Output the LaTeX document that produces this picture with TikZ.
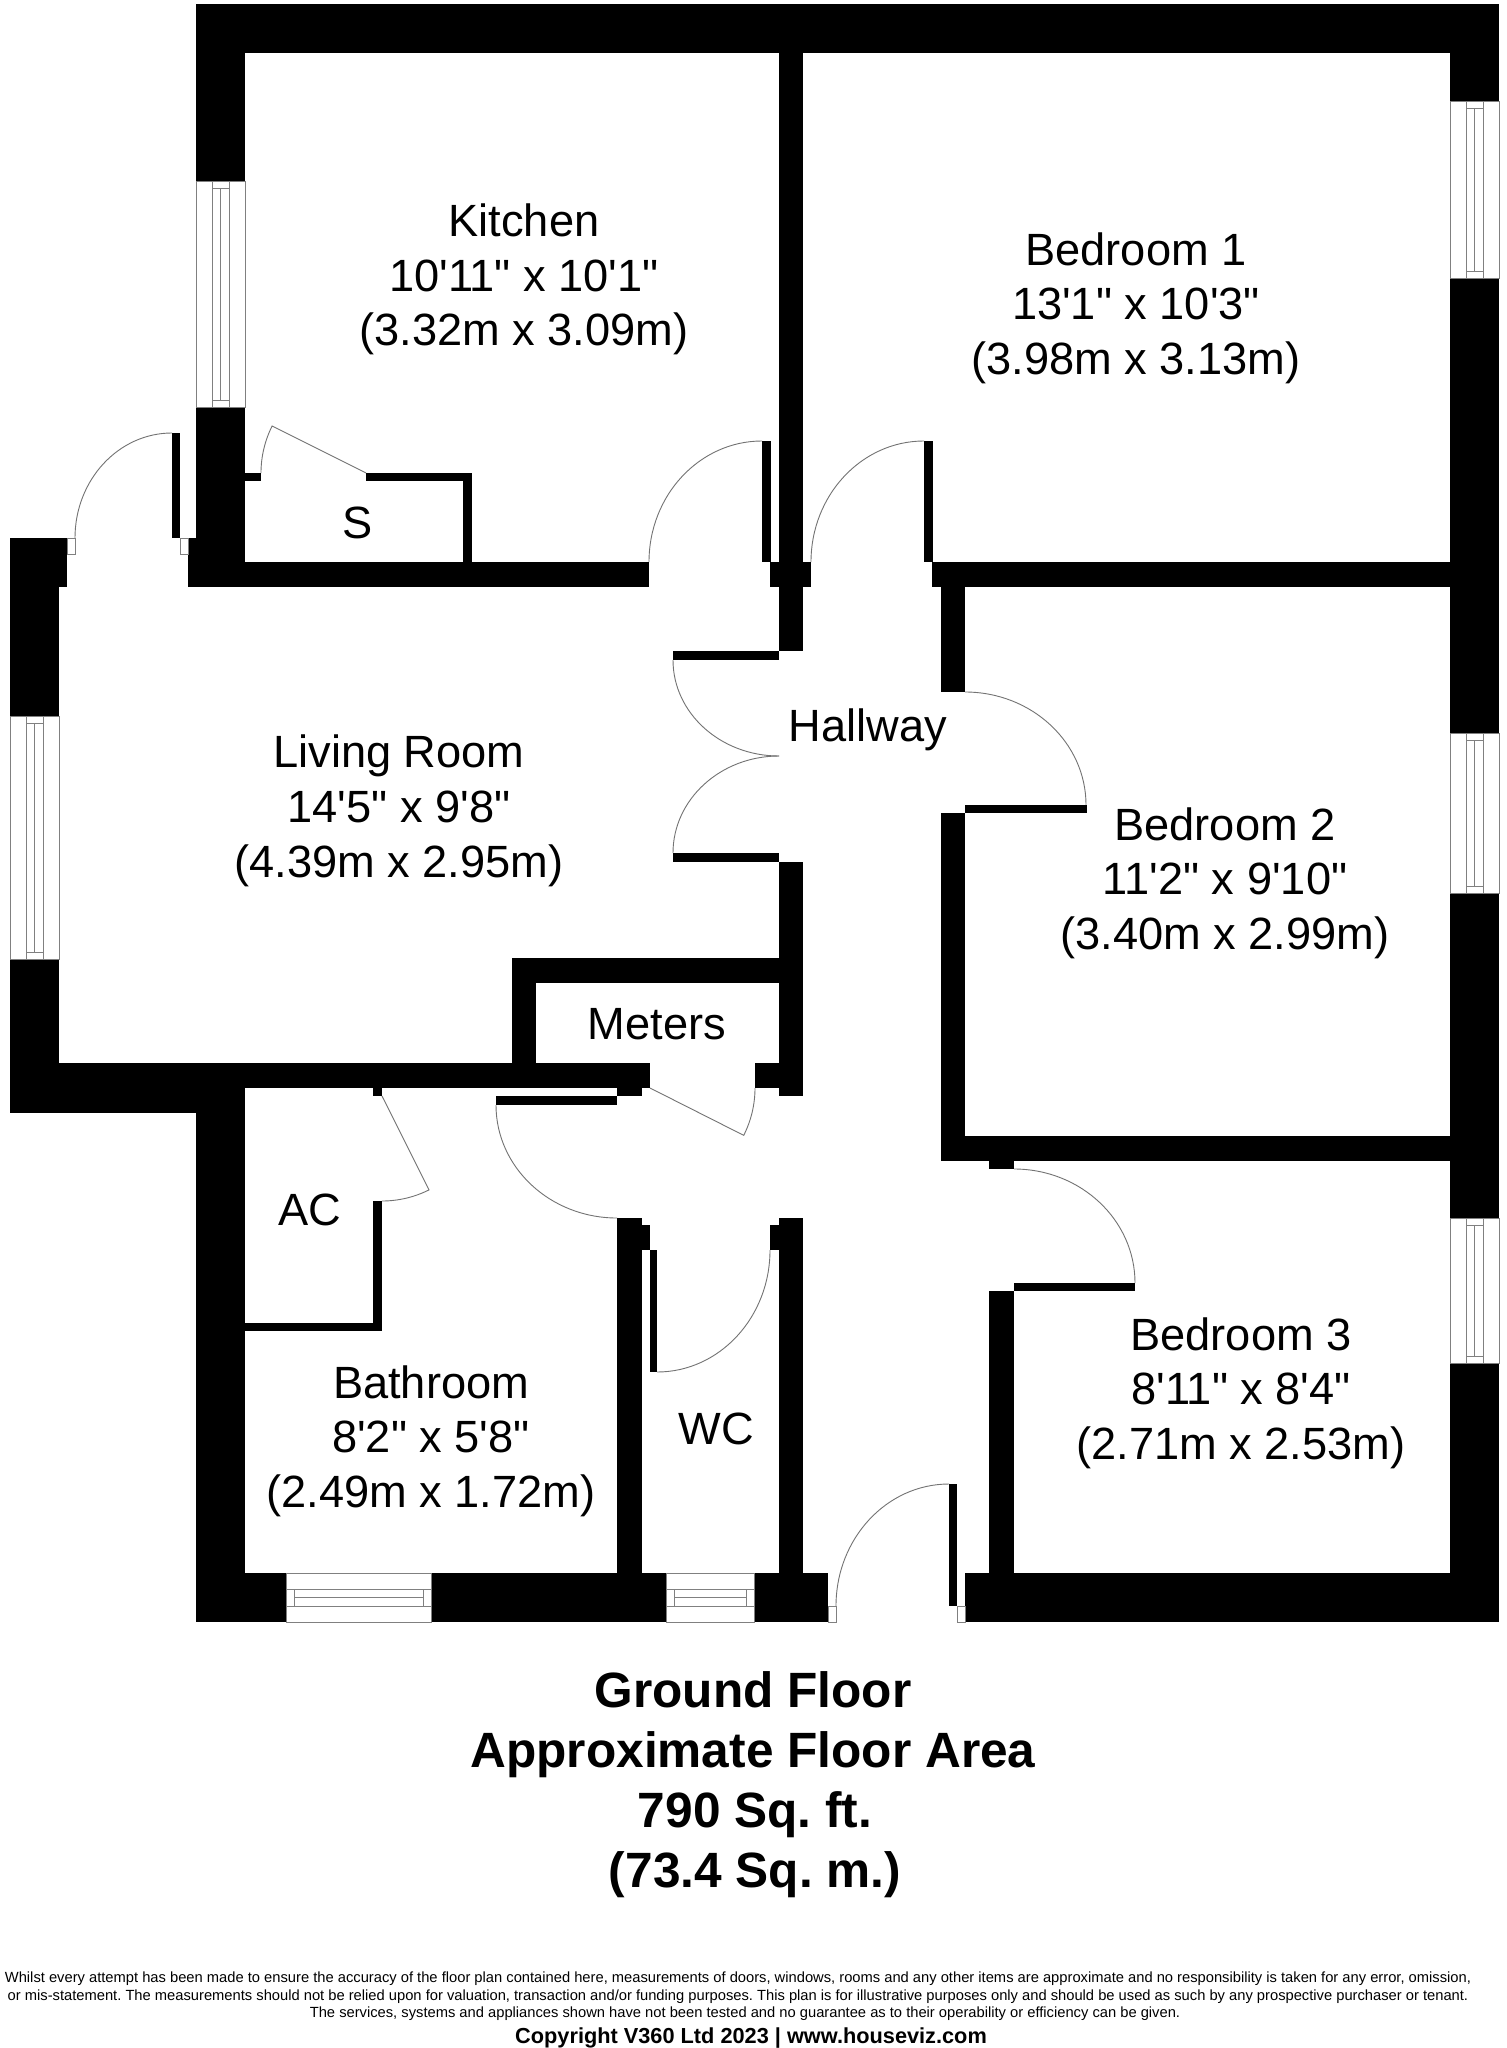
\documentclass[tikz,border=0pt]{standalone}
\usepackage{fontspec}
\setmainfont{Liberation Sans}[Ligatures=TeXOff]
\newcommand{\wallbox}[4]{\fill[black] (#1,#3) rectangle (#2,#4);}
\newcommand{\winV}[4]{%
  \path[winline,fill=white] (#1,#3) rectangle (#2,#4);
  \draw[winline] (#1+16,#3) rectangle (#2-16,#4);
  \draw[winline] (#1+16,#3+7) -- (#2-16,#3+7);
  \draw[winline] (#1+16,#4-7) -- (#2-16,#4-7);
  \draw[winline] ({(#1+#2)/2},#3+7) -- ({(#1+#2)/2},#4-7);}
\newcommand{\winH}[4]{%
  \path[winline,fill=white] (#1,#3) rectangle (#2,#4);
  \draw[winline] (#1,#3+16) rectangle (#2,#4-16);
  \draw[winline] (#1+8,#3+16) -- (#1+8,#4-16);
  \draw[winline] (#2-8,#3+16) -- (#2-8,#4-16);
  \draw[winline] (#1+8,{(#3+#4)/2}) -- (#2-8,{(#3+#4)/2});}
\tikzset{
  winline/.style={draw=black!50,line width=0.5pt},
  swing/.style={draw=black!55,line width=0.45pt},
  jamb/.style={draw=black!50,line width=0.45pt,fill=white},
  room/.style={font=\fontsize{22.6}{27}\selectfont,anchor=base,inner sep=0pt,align=center},
  titletext/.style={font=\fontsize{24.8}{30}\selectfont\bfseries,anchor=base,inner sep=0pt},
  small/.style={font=\fontsize{7.36}{9}\selectfont,anchor=base,inner sep=0pt},
  copyr/.style={font=\fontsize{10.87}{12}\selectfont\bfseries,anchor=base,inner sep=0pt}
}
\begin{document}
\frenchspacing
\begin{tikzpicture}[x=0.5pt,y=-0.5pt]
\useasboundingbox (0,0) rectangle (1507,2048);
\fill[white] (0,0) rectangle (1507,2048);
% outer and main walls
\wallbox{196}{1499}{4}{53}
\wallbox{196}{245}{53}{182}
\wallbox{196}{245}{408}{562}
\wallbox{188}{245}{538}{587}
\wallbox{188}{649}{562}{587}
\wallbox{1450}{1499}{53}{102}
\wallbox{1450}{1499}{279}{733}
\wallbox{1450}{1499}{893}{1218}
\wallbox{1450}{1499}{1363}{1622}
\wallbox{779}{803}{53}{651}
\wallbox{770}{811}{562}{587}
\wallbox{932}{1499}{562}{587}
\wallbox{941}{965}{587}{692}
\wallbox{941}{965}{813}{1161}
\wallbox{941}{1499}{1136}{1161}
\wallbox{10}{67}{538}{587}
\wallbox{10}{59}{587}{716}
\wallbox{10}{59}{959}{1113}
\wallbox{10}{650}{1063}{1088}
\wallbox{10}{245}{1088}{1113}
\wallbox{196}{245}{1113}{1622}
\wallbox{779}{803}{862}{1096}
\wallbox{512}{803}{958}{983}
\wallbox{512}{536}{983}{1063}
\wallbox{755}{779}{1063}{1088}
\wallbox{617}{642}{1088}{1096}
\wallbox{617}{642}{1218}{1573}
\wallbox{642}{650}{1225}{1250}
\wallbox{779}{803}{1218}{1573}
\wallbox{770}{779}{1225}{1250}
\wallbox{989}{1014}{1291}{1573}
\wallbox{989}{1014}{1161}{1169}
\wallbox{196}{286}{1573}{1622}
\wallbox{431}{666}{1573}{1622}
\wallbox{754}{828}{1573}{1622}
\wallbox{965}{1499}{1573}{1622}
% closets
\wallbox{245}{261}{473}{481}
\wallbox{366}{472}{473}{481}
\wallbox{463}{472}{473}{562}
\wallbox{373}{382}{1088}{1096}
\wallbox{373}{382}{1201}{1331}
\wallbox{245}{382}{1323}{1331}
% door leaves
\wallbox{172}{180}{433}{538}
\wallbox{762}{771}{441}{562}
\wallbox{924}{933}{441}{562}
\wallbox{965}{1087}{805}{813}
\wallbox{673}{779}{651}{660}
\wallbox{673}{779}{853}{862}
\wallbox{496}{617}{1096}{1105}
\wallbox{650}{657}{1250}{1372}
\wallbox{1014}{1135}{1283}{1291}
\wallbox{949}{957}{1484}{1606}
% door swings
\draw[swing] (75,538) arc[start angle=180,end angle=270,x radius=97,y radius=105];
\draw[swing] (649,562) arc[start angle=180,end angle=270,x radius=113,y radius=121];
\draw[swing] (811,562) arc[start angle=180,end angle=270,x radius=113,y radius=121];
\draw[swing] (965,692) arc[start angle=270,end angle=360,x radius=121,y radius=113];
\draw[swing] (673,660) arc[start angle=180,end angle=90,x radius=106,y radius=96];
\draw[swing] (673,853) arc[start angle=180,end angle=270,x radius=106,y radius=97];
\draw[swing] (496,1105) arc[start angle=180,end angle=90,x radius=121,y radius=113];
\draw[swing] (770,1250) arc[start angle=0,end angle=90,x radius=113,y radius=122];
\draw[swing] (1014,1169) arc[start angle=270,end angle=360,x radius=121,y radius=114];
\draw[swing] (836,1606) arc[start angle=180,end angle=270,x radius=113,y radius=122];
\draw[swing] (261,473) arc[start angle=180,end angle=206.6,radius=105] -- (366,473);
\draw[swing] (382,1201) arc[start angle=90,end angle=63.4,radius=105] -- (382,1096);
\draw[swing] (755,1088) arc[start angle=0,end angle=26.8,radius=105] -- (650,1088);
% jambs
\path[jamb] (67,538) rectangle (75,554);
\path[jamb] (180,538) rectangle (188,554);
\path[jamb] (828,1606) rectangle (836,1622);
\path[jamb] (957,1606) rectangle (965,1622);
% windows
\winV{196}{245}{182}{408}
\winV{1450}{1499}{102}{279}
\winV{1450}{1499}{733}{893}
\winV{1450}{1499}{1218}{1363}
\winV{10}{59}{716}{959}
\winH{286}{431}{1573}{1622}
\winH{666}{754}{1573}{1622}
% labels
\node[room] (kitchenA) at (524,237) {Kitchen};
\node[room] (kitchenB) at (524,292) {10'11" x 10'1"};
\node[room] (kitchenC) at (524,346) {(3.32m x 3.09m)};
\node[room] (bedAa) at (1136,266) {Bedroom 1};
\node[room] (bedAb) at (1136,320) {13'1" x 10'3"};
\node[room] (bedAc) at (1136,375) {(3.98m x 3.13m)};
\node[room] (storeS) at (358,538) {S};
\node[room] (hall) at (868,741) {Hallway};
\node[room] (livA) at (399,767) {Living Room};
\node[room] (livB) at (399,822) {14'5" x 9'8"};
\node[room] (livC) at (399,877) {(4.39m x 2.95m)};
\node[room] (bedBa) at (1225,840) {Bedroom 2};
\node[room] (bedBb) at (1225,894) {11'2" x 9'10"};
\node[room] (bedBc) at (1225,949) {(3.40m x 2.99m)};
\node[room] (meters) at (657,1039) {Meters};
\node[room] (ac) at (310,1225) {AC};
\node[room] (bathA) at (431,1398) {Bathroom};
\node[room] (bathB) at (431,1452) {8'2" x 5'8"};
\node[room] (bathC) at (431,1507) {(2.49m x 1.72m)};
\node[room] (wc) at (716,1444) {WC};
\node[room] (bedCa) at (1241,1350) {Bedroom 3};
\node[room] (bedCb) at (1241,1404) {8'11" x 8'4"};
\node[room] (bedCc) at (1241,1459) {(2.71m x 2.53m)};
% title
\node[titletext] (tA) at (753,1707) {Ground Floor};
\node[titletext] (tB) at (753,1767) {Approximate Floor Area};
\node[titletext] (tC) at (755,1827) {790 Sq. ft.};
\node[titletext] (tD) at (755,1887) {(73.4 Sq. m.)};
% footer
\node[small] (fA) at (738,1982) {Whilst every attempt has been made to ensure the accuracy of the floor plan contained here, measurements of doors, windows, rooms and any other items are approximate and no responsibility is taken for any error, omission,};
\node[small] (fB) at (738,2000) {or mis-statement. The measurements should not be relied upon for valuation, transaction and/or funding purposes. This plan is for illustrative purposes only and should be used as such by any prospective purchaser or tenant.};
\node[small] (fC) at (745,2017) {The services, systems and appliances shown have not been tested and no guarantee as to their operability or efficiency can be given.};
\node[copyr] (fD) at (751,2043) {Copyright V360 Ltd 2023 | www.houseviz.com};
\end{tikzpicture}
\end{document}
